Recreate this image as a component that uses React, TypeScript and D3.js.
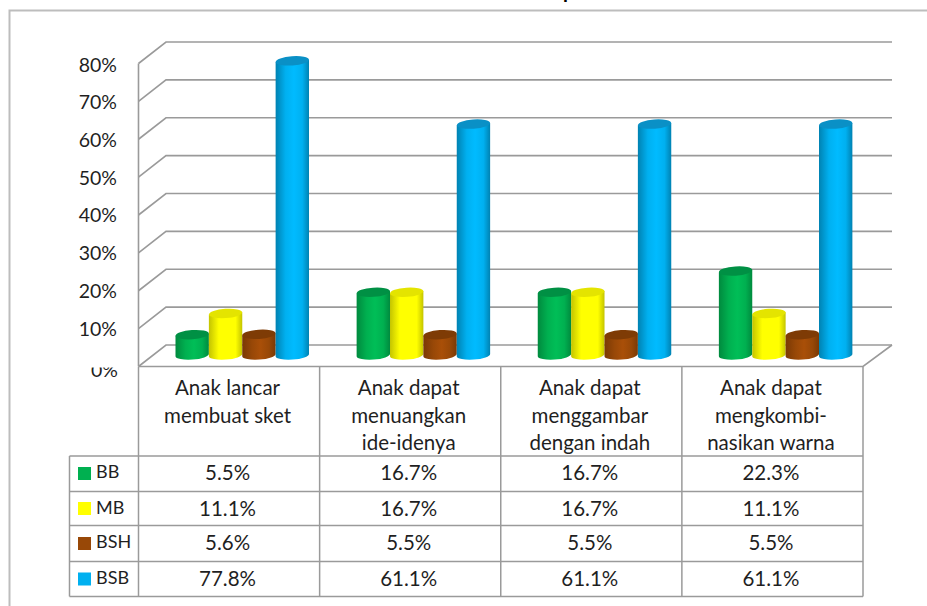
import React from "react";
import * as d3 from "d3";

const categories = ["cat1", "cat2", "cat3", "cat4"];
const categoryLines = [
  ["Anak lancar", "membuat sket"],
  ["Anak dapat", "menuangkan", "ide-idenya"],
  ["Anak dapat", "menggambar", "dengan indah"],
  ["Anak dapat", "mengkombi-", "nasikan warna"],
];
const seriesNames = ["BB", "MB", "BSH", "BSB"];
const BB = [5.5, 16.7, 16.7, 22.3];
const MB = [11.1, 16.7, 16.7, 11.1];
const BSH = [5.6, 5.5, 5.5, 5.5];
const BSB = [77.8, 61.1, 61.1, 61.1];
const seriesValues = [BB, MB, BSH, BSB];
const fills = ["#00B050", "#FFFF00", "#984807", "#00B0F0"];
const edges = ["#008A3E", "#C4C400", "#7A3905", "#0082B2"];
const mids = ["#00BE57", "#FFFF00", "#A94F08", "#00BBFF"];
const tops = ["#009044", "#E4E400", "#7E3B05", "#0A90C6"];
const yTicks = [0, 10, 20, 30, 40, 50, 60, 70, 80];

const W = 927;
const H = 606;
const depthX = 27.5;
const depthY = 21.5;
const font = "Lato, Carlito, 'Open Sans', sans-serif";
const gridColor = "#9a9a9a";
const textColor = "#1f1f1f";

const yBack = d3.scaleLinear().domain([0, 80]).range([345, 42]);
const yLabel = d3.scaleLinear().domain([10, 80]).range([335.5, 71.5]);
const xCat = d3.scaleBand<string>().domain(categories).range([138, 862.5]);
const xSeries = d3.scaleBand<string>().domain(seriesNames).range([37.5, 171]);
const rowLines = [456, 491.5, 525.5, 561.5, 596.5];
const legendBaselines = [478, 514, 548, 584];
const valueBaselines = [480, 515.5, 550, 586];
const legendSquares = [467, 502, 537, 572.5];

const BASE_OFFSET = 10;
const RY = 4.6;
const TILT = -4;

function Cylinder({ x, w, value, s }: { x: number; w: number; value: number; s: number }) {
  const rx = w / 2;
  const yb = yBack(0) + BASE_OFFSET;
  const yt = yBack(value) + BASE_OFFSET + 0.5;
  const dy = rx * Math.sin((-TILT * Math.PI) / 180);
  const cx = x + rx;
  const d = `M${x},${yt + dy} L${x},${yb + dy} A${rx},${RY} ${TILT} 0 0 ${x + w},${yb - dy} L${x + w},${yt - dy} Z`;
  return (
    <g>
      <path d={d} fill={`url(#grad${s})`} />
      <ellipse cx={cx} cy={yt} rx={rx} ry={RY} fill={tops[s]} transform={`rotate(${TILT} ${cx} ${yt})`} />
    </g>
  );
}

export default function App() {
  const bw = xSeries.bandwidth();
  const left = 138.5;
  const right = 863;
  return (
    <svg
      width={W}
      height={H}
      viewBox={`0 0 ${W} ${H}`}
      style={{ position: "absolute", left: 0, top: 0, display: "block", background: "#fff" }}
    >
      <defs>
        {seriesNames.map((n, i) => (
          <linearGradient key={n} id={`grad${i}`} x1="0" x2="1" y1="0" y2="0">
            <stop offset="0" stopColor={edges[i]} />
            <stop offset="0.3" stopColor={fills[i]} />
            <stop offset="0.55" stopColor={mids[i]} />
            <stop offset="0.8" stopColor={fills[i]} />
            <stop offset="1" stopColor={edges[i]} />
          </linearGradient>
        ))}
      </defs>

      <text x={563} y={-2} fontFamily={font} fontSize={20} fontWeight={700} fill="#000">p</text>

      <path d={`M9.5,${H} L9.5,10.5 L${W},10.5`} fill="none" stroke="#bdbdbd" strokeWidth={2} />

      {/* walls and gridlines */}
      <g fill="none" stroke={gridColor} strokeWidth={1.6}>
        {yTicks.map((t) => (
          <path key={t} d={`M${left},${yBack(t) + depthY} L${left + depthX},${yBack(t)} L892,${yBack(t)}`} />
        ))}
        <path d={`M${left},${yBack(80) + depthY} L${left},${yBack(0) + depthY}`} />
        <path d={`M892,${yBack(0)} L${right},${yBack(0) + depthY} L${left},${yBack(0) + depthY}`} />
      </g>

      {/* cylinders */}
      {categories.map((c, ci) => (
        <g key={c}>
          {seriesNames.map((n, si) => (
            <Cylinder
              key={n}
              x={(xCat(c) as number) + (xSeries(n) as number)}
              w={bw}
              value={seriesValues[si][ci]}
              s={si}
            />
          ))}
        </g>
      ))}

      {/* y labels */}
      <g fontFamily={font} fontSize={19.5} fill={textColor} textAnchor="end">
        {yTicks.filter((t) => t > 0).map((t) => (
          <text key={t} x={117} y={yLabel(t)}>{`${t}%`}</text>
        ))}
        <clipPath id="zeroClip"><rect x={60} y={367.5} width={70} height={20} /></clipPath>
        <text x={118} y={377} clipPath="url(#zeroClip)">0%</text>
      </g>

      {/* data table */}
      <g fill="none" stroke={gridColor} strokeWidth={1.5}>
        <path d={`M${left},367 L${left},596.5`} />
        {categories.map((c) => {
          const xr = (xCat(c) as number) + xCat.bandwidth();
          return <path key={c} d={`M${xr + 0.5},367 L${xr + 0.5},596.5`} />;
        })}
        {rowLines.map((y) => (
          <path key={y} d={`M69.5,${y} L${right},${y}`} />
        ))}
        <path d={`M69.5,456 L69.5,596.5`} />
      </g>

      <g fontFamily={font} fontSize={20.5} fill={textColor} textAnchor="middle">
        {categories.map((c, ci) => {
          const cx = (xCat(c) as number) + xCat.bandwidth() / 2 - 1;
          return (
            <g key={c}>
              {categoryLines[ci].map((line, li) => (
                <text key={li} x={cx} y={395 + li * 27.7}>{line}</text>
              ))}
              {seriesNames.map((n, si) => (
                <text key={n} x={cx} y={valueBaselines[si]}>{`${seriesValues[si][ci].toFixed(1)}%`}</text>
              ))}
            </g>
          );
        })}
      </g>

      {seriesNames.map((n, si) => (
        <g key={n}>
          <rect x={78} y={legendSquares[si]} width={13} height={13} fill={fills[si]} />
          <text x={96} y={legendBaselines[si]} fontFamily={font} fontSize={18} fill={textColor}>{n}</text>
        </g>
      ))}
    </svg>
  );
}
